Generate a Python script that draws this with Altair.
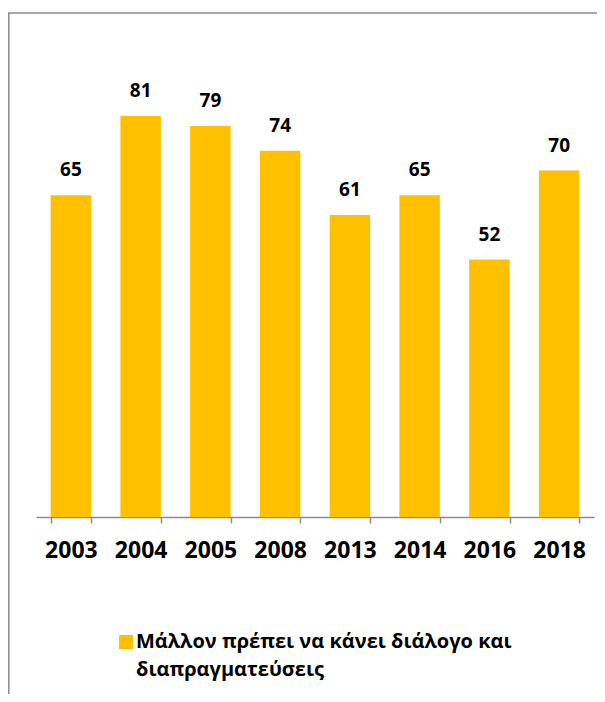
import json
import altair as alt
import pandas as pd

# ---- data ----
years = ["2003", "2004", "2005", "2008", "2013", "2014", "2016", "2018"]
values = [65, 81, 79, 74, 61, 65, 52, 70]
legend_lines = ["Μάλλον πρέπει να κάνει διάλογο και", "διαπραγματεύσεις"]
series_name = " ".join(legend_lines)

BAR_COLOR = "#FFC000"
FRAME_COLOR = "#8c8c8c"
FONT = "Open Sans"

df = pd.DataFrame({"year": years, "value": values, "series": [series_name] * len(years)})
frame_df = pd.DataFrame({"k": [0]})

x_enc = alt.X(
    "year:N",
    sort=years,
    title=None,
    scale=alt.Scale(paddingInner=0.42, paddingOuter=0.21),
    axis=alt.Axis(
        labelAngle=0,
        labelFont=FONT,
        labelFontSize=23,
        labelFontWeight="bold",
        labelColor="#000000",
        labelPadding=16,
        tickBand="extent",
        tickSize=6,
        tickColor=FRAME_COLOR,
        tickWidth=1.5,
        domainColor=FRAME_COLOR,
        domainWidth=1.5,
        grid=False,
    ),
)
y_enc = alt.Y("value:Q", scale=alt.Scale(domain=[0, 100]), axis=None)

bars = alt.Chart(df).mark_bar().encode(
    x=x_enc,
    y=y_enc,
    color=alt.Color(
        "series:N",
        scale=alt.Scale(domain=[series_name], range=[BAR_COLOR]),
        legend=alt.Legend(
            title=None,
            orient="none",
            legendX=80,
            legendY=610,
            padding=0,
            symbolType="square",
            symbolSize=196,
            symbolStrokeWidth=0,
            labelOffset=0,
            labelLimit=1000,
            labelFont=FONT,
            labelFontSize=20,
            labelFontWeight="bold",
            labelColor="#000000",
            labelBaseline="middle",
            labelExpr=json.dumps(legend_lines, ensure_ascii=False),
        ),
    ),
)

labels = alt.Chart(df).mark_text(
    baseline="alphabetic",
    dy=-19,
    font=FONT,
    fontSize=19,
    fontWeight="bold",
    color="#000000",
).encode(x=x_enc, y=y_enc, text="value:Q")

# outer chart frame (only its top and left edges fall inside the picture)
frame = alt.Chart(frame_df).mark_rect(
    fill="transparent", stroke=FRAME_COLOR, strokeWidth=1.5
).encode(
    x=alt.value(-27.25), x2=alt.value(700), y=alt.value(-9), y2=alt.value(800)
)

chart = (
    alt.layer(bars, labels, frame)
    .properties(
        width=558,
        height=495,
        autosize=alt.AutoSizeParams(type="none"),
        padding={"left": 28, "top": 14, "right": 3, "bottom": 177},
    )
    .configure(style={"guide-label": {"lineHeight": 28}})
    .configure_view(stroke="transparent", strokeWidth=0)
)

chart.save("out.html", embed_options={"renderer": "svg", "actions": False})
